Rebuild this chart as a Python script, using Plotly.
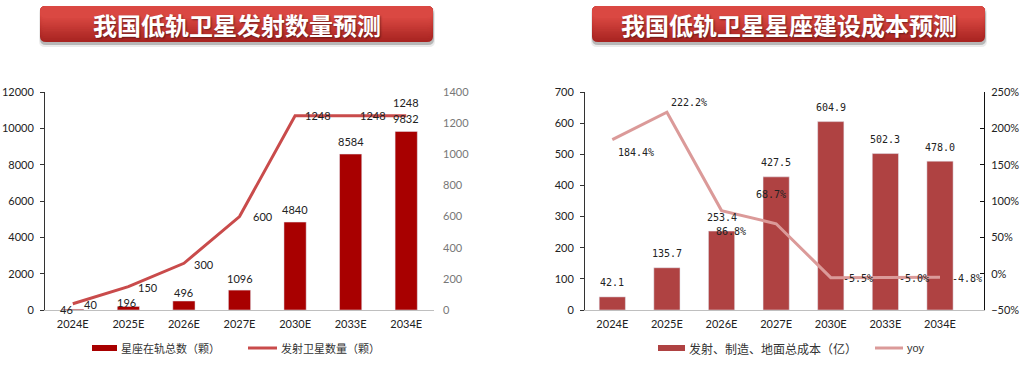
import plotly.graph_objects as go

W, H = 1030, 365

def X(px):
    return px / W

def Y(py):
    return 1 - py / H

# ---------------- data ----------------
categories = ["2024E", "2025E", "2026E", "2027E", "2030E", "2033E", "2034E"]
constellation_total = [46, 196, 496, 1096, 4840, 8584, 9832]
launch_count = [40, 150, 300, 600, 1248, 1248, 1248]
cost_total = [42.1, 135.7, 253.4, 427.5, 604.9, 502.3, 478.0]
cost_yoy = [184.4, 222.2, 86.8, 68.7, -5.5, -5.0, -4.8]

left_title = "我国低轨卫星发射数量预测"
right_title = "我国低轨卫星星座建设成本预测"
name_total = "星座在轨总数（颗）"
name_launch = "发射卫星数量（颗）"
name_cost = "发射、制造、地面总成本（亿）"
name_yoy = "yoy"

# ---------------- styles ----------------
C_BAR1 = "#A80000"
C_LINE1 = "#C94B4B"
C_BAR2 = "#AF4242"
C_LINE2 = "#DB9A99"
NUMFONT = "Lato, 'Open Sans', sans-serif"
CJK = "Noto Sans CJK SC"
MONO = "DejaVu Sans Mono"

# label offsets (pixels) for value labels
total_lbl_dx = [-6, -2, 0, 0, 0, 0, 0]
total_lbl_dy = [0, 4, 8, 12, 13, 13, 13]
launch_lbl_dx = [18, 20, 20, 23, 23, 22, 0]
launch_lbl_dy = [-1, -1, -1, 0, 0, 0, 13]
cost_lbl_dy = [14] * 7
yoy_lbl_dx = [24, 22, 9, -5, 27, 29, 27]
yoy_lbl_dy = [-13, 10, -21, 29, -1, -1, -1]

fig = go.Figure()

fig.add_trace(go.Bar(
    x=categories, y=constellation_total, name=name_total,
    xaxis="x", yaxis="y", marker_color=C_BAR1, width=0.4, showlegend=False,
))
fig.add_trace(go.Scatter(
    x=categories, y=launch_count, name=name_launch,
    xaxis="x", yaxis="y2", mode="lines",
    line=dict(color=C_LINE1, width=3), showlegend=False,
))
fig.add_trace(go.Bar(
    x=categories, y=cost_total, name=name_cost,
    xaxis="x2", yaxis="y3", marker_color=C_BAR2, width=0.48, showlegend=False,
))
fig.add_trace(go.Scatter(
    x=categories, y=cost_yoy, name=name_yoy,
    xaxis="x2", yaxis="y4", mode="lines",
    line=dict(color=C_LINE2, width=3), showlegend=False,
))

ydom = [Y(310), Y(92)]
tickf = dict(family=NUMFONT, size=11, color="#222")

fig.update_layout(
    width=W, height=H,
    margin=dict(l=0, r=0, t=0, b=0, pad=0),
    paper_bgcolor="white", plot_bgcolor="white",
    showlegend=False,
    xaxis=dict(domain=[X(45), X(434)], anchor="y", type="category",
               showline=True, linecolor="#BFBFBF", linewidth=1, ticks="",
               showgrid=False, tickfont=tickf, ticklabelstandoff=4,
               automargin=False),
    yaxis=dict(domain=ydom, anchor="x", range=[0, 12000], dtick=2000,
               tickformat="d",
               showline=True, linecolor="#333", linewidth=1, ticks="outside",
               ticklen=4, tickcolor="#333", showgrid=False, zeroline=False,
               tickfont=tickf, ticklabelstandoff=4, automargin=False),
    yaxis2=dict(overlaying="y", side="right", anchor="x", range=[0, 1400],
                dtick=200, showline=False, showgrid=False, zeroline=False,
                ticks="", tickfont=dict(family=NUMFONT, size=11, color="#777"),
                ticklabelstandoff=8, automargin=False),
    xaxis2=dict(domain=[X(585), X(984)], anchor="y3", type="category",
                showline=True, linecolor="#BFBFBF", linewidth=1, ticks="",
                showgrid=False, tickfont=tickf, ticklabelstandoff=4,
                automargin=False),
    yaxis3=dict(domain=ydom, anchor="x2", range=[0, 700], dtick=100,
                showline=True, linecolor="#333", linewidth=1, ticks="outside",
                ticklen=4, tickcolor="#333", showgrid=False, zeroline=False,
                tickfont=tickf, ticklabelstandoff=4, automargin=False),
    yaxis4=dict(overlaying="y3", side="right", anchor="x2", range=[-50, 250],
                dtick=50, ticksuffix="%", showline=True, linecolor="#111",
                linewidth=1, ticks="inside", ticklen=4, tickcolor="#111",
                showgrid=False, zeroline=False, tickfont=tickf,
                ticklabelstandoff=4, automargin=False),
)

shapes = []
annotations = []

# ---------------- value labels (anchored to data) ----------------
for c, v, dx, dy in zip(categories, constellation_total, total_lbl_dx, total_lbl_dy):
    annotations.append(dict(x=c, y=v, xref="x", yref="y", text=str(v),
                            showarrow=False, xshift=dx, yshift=dy,
                            xanchor="center", yanchor="middle",
                            font=dict(family=NUMFONT, size=11, color="#222")))
for c, v, dx, dy in zip(categories, launch_count, launch_lbl_dx, launch_lbl_dy):
    annotations.append(dict(x=c, y=v, xref="x", yref="y2", text=str(v),
                            showarrow=False, xshift=dx, yshift=dy,
                            xanchor="center", yanchor="middle",
                            font=dict(family=NUMFONT, size=11, color="#222")))
for c, v, dy in zip(categories, cost_total, cost_lbl_dy):
    annotations.append(dict(x=c, y=v, xref="x2", yref="y3", text=f"{v:.1f}",
                            showarrow=False, yshift=dy,
                            xanchor="center", yanchor="middle",
                            font=dict(family=MONO, size=10, color="#222")))
for c, v, dx, dy in zip(categories, cost_yoy, yoy_lbl_dx, yoy_lbl_dy):
    annotations.append(dict(x=c, y=v, xref="x2", yref="y4", text=f"{v:.1f}%",
                            showarrow=False, xshift=dx, yshift=dy,
                            xanchor="center", yanchor="middle",
                            font=dict(family=MONO, size=10, color="#222")))

# ---------------- title banners ----------------
def rrect(x0, y0, x1, y1, r):
    return (f"M {X(x0 + r)} {Y(y0)} L {X(x1 - r)} {Y(y0)} "
            f"Q {X(x1)} {Y(y0)} {X(x1)} {Y(y0 + r)} L {X(x1)} {Y(y1 - r)} "
            f"Q {X(x1)} {Y(y1)} {X(x1 - r)} {Y(y1)} L {X(x0 + r)} {Y(y1)} "
            f"Q {X(x0)} {Y(y1)} {X(x0)} {Y(y1 - r)} L {X(x0)} {Y(y0 + r)} "
            f"Q {X(x0)} {Y(y0)} {X(x0 + r)} {Y(y0)} Z")

def mix(c1, c2, t):
    return "rgb(%d,%d,%d)" % tuple(round(a + (b - a) * t) for a, b in zip(c1, c2))

def banner(x0, x1, text):
    y0, y1, r = 6, 42, 6
    shapes.append(dict(type="path", xref="paper", yref="paper",
                       path=rrect(x0 - 1, y0 + 1, x1 + 2, y1 + 5, r),
                       fillcolor="rgba(0,0,0,0.08)", line=dict(width=0)))
    shapes.append(dict(type="path", xref="paper", yref="paper",
                       path=rrect(x0, y0 + 2, x1 + 1, y1 + 3, r),
                       fillcolor="rgba(0,0,0,0.22)", line=dict(width=0)))
    bottom = (168, 36, 33)
    top = (218, 72, 66)
    N = 14
    minh = 12
    step = (y1 - y0 - minh) / (N - 1)
    for i in range(N):
        yy1 = y1 - i * step
        col = mix(bottom, top, i / (N - 1))
        shapes.append(dict(type="path", xref="paper", yref="paper",
                           path=rrect(x0, y0, x1, yy1, r),
                           fillcolor=col, line=dict(width=0)))
    annotations.append(dict(
        x=X((x0 + x1) / 2), y=Y((y0 + y1) / 2 + 0.5), xref="paper", yref="paper",
        text=f"<b>{text}</b>", showarrow=False, xanchor="center", yanchor="middle",
        font=dict(family=CJK, size=24, color="white",
                  shadow="1px 1px 2px rgba(0,0,0,0.45)"),
    ))

banner(40, 433, left_title)
banner(592, 985, right_title)

# ---------------- legends ----------------
def legend_bar(x0, x1, color, text, size):
    shapes.append(dict(type="rect", xref="paper", yref="paper",
                       x0=X(x0), x1=X(x1), y0=Y(351), y1=Y(345),
                       fillcolor=color, line=dict(width=0)))
    annotations.append(dict(x=X(x1 + 2), y=Y(348), xref="paper", yref="paper",
                            text=text, showarrow=False, xanchor="left",
                            yanchor="middle",
                            font=dict(family=CJK, size=size, color="#333")))

def legend_line(x0, x1, color, text, size, fam=CJK):
    shapes.append(dict(type="line", xref="paper", yref="paper",
                       x0=X(x0), x1=X(x1), y0=Y(348), y1=Y(348),
                       line=dict(color=color, width=3)))
    annotations.append(dict(x=X(x1 + 2), y=Y(348), xref="paper", yref="paper",
                            text=text, showarrow=False, xanchor="left",
                            yanchor="middle",
                            font=dict(family=fam, size=size, color="#333")))

legend_bar(92, 117, C_BAR1, name_total, 11)
legend_line(248, 277, C_LINE1, name_launch, 11)
legend_bar(658, 685, C_BAR2, name_cost, 12)
legend_line(875, 903, C_LINE2, name_yoy, 11, fam="Liberation Sans")

fig.update_layout(shapes=shapes, annotations=annotations)

fig.write_html(
    "out.html",
    config={"displayModeBar": False},
    post_script="document.body.style.margin='0';document.body.style.overflow='hidden';",
)
